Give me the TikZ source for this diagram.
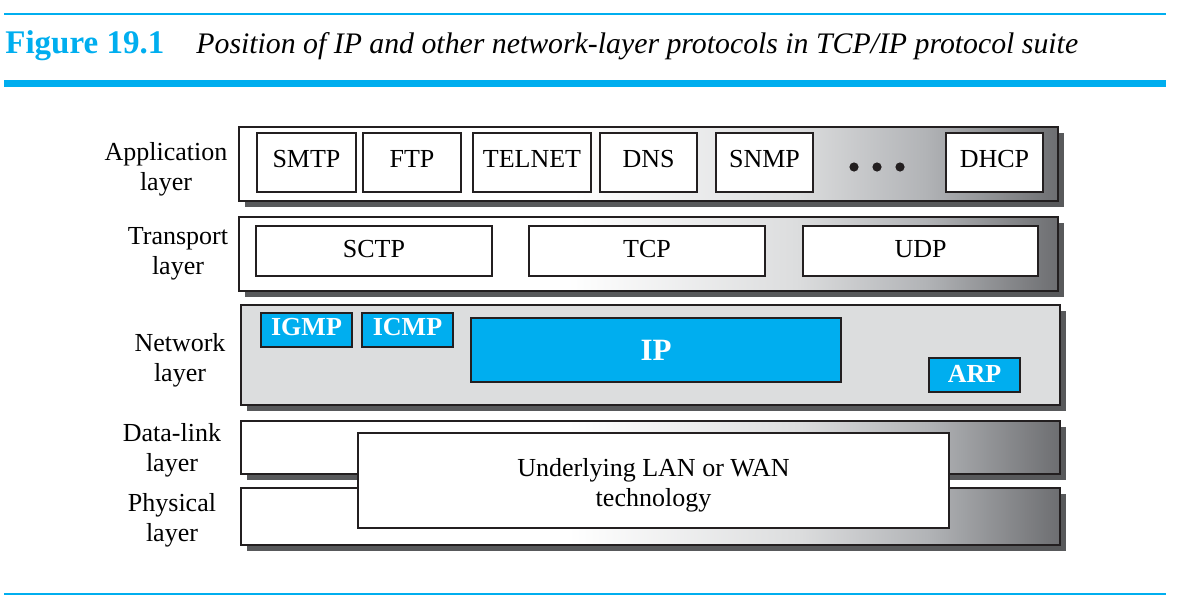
\documentclass[tikz,border=0pt]{standalone}
\usepackage{fontspec}
\setmainfont{Liberation Serif}
\usetikzlibrary{fit,shadows}
\definecolor{cyanB}{HTML}{00AEEF}
\definecolor{netgray}{HTML}{DCDDDE}
\definecolor{shadowgray}{HTML}{58595B}
\definecolor{edgecol}{HTML}{231F20}
\definecolor{gA}{HTML}{DCDDDE}
\definecolor{gB}{HTML}{B1B3B6}
\definecolor{gC}{HTML}{6D6E71}
\pgfdeclarehorizontalshading{layershade}{100bp}{color(0bp)=(white); color(25bp)=(white); color(45bp)=(white); color(59bp)=(gA); color(67bp)=(gB); color(75bp)=(gC); color(100bp)=(gC)}
\tikzset{
  layerbar/.style={draw=edgecol, line width=1pt, inner sep=0pt,
    drop shadow={shadow xshift=3pt, shadow yshift=-3pt, fill=shadowgray, opacity=1}},
  gradbar/.style={layerbar, shading=layershade},
  netbar/.style={layerbar, fill=netgray},
  protbox/.style={draw=edgecol, line width=0.9pt, fill=white, inner sep=0pt},
  bluebox/.style={draw=edgecol, line width=0.9pt, fill=cyanB, inner sep=0pt},
  prottext/.style={inner sep=0pt, font=\fontsize{13}{15}\selectfont, text height=8.6pt, text depth=0pt},
  bluetext/.style={inner sep=0pt, text=white, font=\bfseries\fontsize{13}{15}\selectfont, text height=8.6pt, text depth=0pt},
  layerlabel/.style={align=center, font=\fontsize{13}{15}\selectfont, inner sep=0pt},
  rule/.style={draw=cyanB, line width=1pt}
}
\begin{document}
\begin{tikzpicture}[x=0.5pt,y=-0.5pt]
\useasboundingbox (0,0) rectangle (1189,606);
% header
\draw[rule] (4,14) -- (1166,14);
\draw[rule, line width=3.5pt] (4,83.5) -- (1166,83.5);
\draw[rule] (4,594) -- (1166,594);
\node[anchor=base west, inner sep=0pt, text=cyanB, font=\bfseries\fontsize{16.5}{18}\selectfont] (figno) at (5,53) {Figure 19.1};
\node[anchor=base west, inner sep=0pt, font=\itshape\fontsize{14.9}{17}\selectfont] (caption) at (196,53) {Position of IP and other network-layer protocols in TCP/IP protocol suite};
% layer bars
\node[gradbar, fit={(239,127) (1058,201)}] (appbar) {};
\node[gradbar, fit={(239,217) (1058,291)}] (trbar) {};
\node[netbar, fit={(241,305) (1060,405)}] (netbar) {};
\node[gradbar, fit={(241,421) (1060,474)}] (dlbar) {};
\node[gradbar, fit={(241,488) (1060,545)}] (phbar) {};
% layer labels
\node[layerlabel] (lapp) at (166,169.5) {Application\\layer};
\node[layerlabel] (ltr) at (178,254) {Transport\\layer};
\node[layerlabel] (lnet) at (180,360.5) {Network\\layer};
\node[layerlabel] (ldl) at (172,450.5) {Data-link\\layer};
\node[layerlabel] (lph) at (172,520.5) {Physical\\layer};
% application protocols
\node[protbox, fit={(257,133) (356,192)}] (smtp) {};
\node[protbox, fit={(363,133) (461,192)}] (ftp) {};
\node[protbox, fit={(473,133) (591,192)}] (telnet) {};
\node[protbox, fit={(600,133) (697,192)}] (dns) {};
\node[protbox, fit={(716,133) (813,192)}] (snmp) {};
\node[protbox, fit={(946,133) (1043,192)}] (dhcp) {};
\node[prottext, yshift=2pt] (tsmtp) at (smtp.center) {SMTP};
\node[prottext, yshift=2pt] (tftp) at (ftp.center) {FTP};
\node[prottext, yshift=2pt] (ttelnet) at (telnet.center) {TELNET};
\node[prottext, yshift=2pt] (tdns) at (dns.center) {DNS};
\node[prottext, yshift=2pt] (tsnmp) at (snmp.center) {SNMP};
\node[prottext, yshift=2pt] (tdhcp) at (dhcp.center) {DHCP};
\fill[edgecol] (854,167) circle[radius=2.3pt];
\fill[edgecol] (877,167) circle[radius=2.3pt];
\fill[edgecol] (900,167) circle[radius=2.3pt];
% transport protocols
\node[protbox, fit={(256,226) (492,276)}] (sctp) {};
\node[protbox, fit={(529,226) (765,276)}] (tcp) {};
\node[protbox, fit={(803,226) (1038,276)}] (udp) {};
\node[prottext, yshift=1.25pt] (tsctp) at (sctp.center) {SCTP};
\node[prottext, yshift=1.25pt] (ttcp) at (tcp.center) {TCP};
\node[prottext, yshift=1.25pt] (tudp) at (udp.center) {UDP};
% network protocols
\node[bluebox, fit={(261,313) (352,347)}] (igmp) {};
\node[bluebox, fit={(362,313) (453,347)}] (icmp) {};
\node[bluebox, fit={(471,318) (841,382)}] (ip) {};
\node[bluebox, fit={(929,358) (1020,392)}] (arp) {};
\node[bluetext, yshift=1.6pt] (tigmp) at (igmp.center) {IGMP};
\node[bluetext, yshift=1.6pt] (ticmp) at (icmp.center) {ICMP};
\node[bluetext, font=\bfseries\fontsize{15.5}{17}\selectfont, text height=10.3pt] (tip) at (ip.center) {IP};
\node[bluetext, yshift=0.6pt] (tarp) at (arp.center) {ARP};
% underlying technology
\node[protbox, fit={(358,433) (949,528)}] (tech) {};
\node[layerlabel, yshift=-2.5pt] (techtext) at (tech.center) {Underlying LAN or WAN\\technology};
\end{tikzpicture}
\end{document}
